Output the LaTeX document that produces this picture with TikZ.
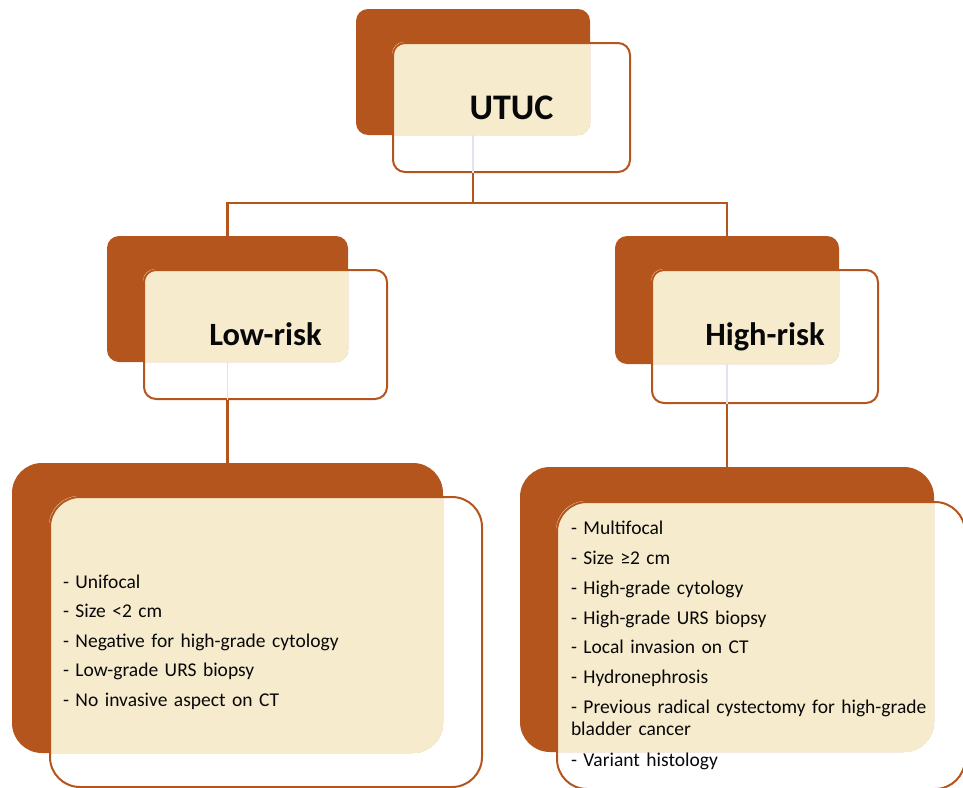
\documentclass[tikz,border=0pt]{standalone}
\usepackage{fontspec}
\setmainfont{Carlito}

\definecolor{rust}{RGB}{181,85,30}
\definecolor{cream}{RGB}{247,235,206}
\definecolor{faintline}{RGB}{224,226,242}
\definecolor{ink}{RGB}{8,8,8}
\pgfdeclarelayer{back}
\pgfsetlayers{back,main}

\begin{document}
\begin{tikzpicture}[x=1pt, y=-1pt,
    darkbox/.style={fill=rust, draw=none, inner sep=0pt},
    framebox/.style={draw=rust, line width=2pt, inner sep=0pt, text=ink},
    headtext/.style={font=\fontsize{#1}{#1}\selectfont\bfseries},
    listtext/.style={font=\fontsize{19.5}{22}\selectfont, align=left},
    link/.style={draw=rust, line width=2.2pt},
    faint/.style={draw=faintline, line width=1.2pt}
]
    \useasboundingbox (0,0) rectangle (963,787);

    % dark back plates
    \begin{pgfonlayer}{back}
        \node[darkbox, rounded corners=12pt, minimum width=234pt, minimum height=126pt] (utucBack) at (473,72) {};
        \node[darkbox, rounded corners=12pt, minimum width=241pt, minimum height=126pt] (lowBack) at (227.5,299) {};
        \node[darkbox, rounded corners=12pt, minimum width=224pt, minimum height=128pt] (highBack) at (727,300) {};
        \node[darkbox, rounded corners=30pt, minimum width=431pt, minimum height=290pt] (lowListBack) at (227.5,608) {};
        \node[darkbox, rounded corners=30pt, minimum width=414pt, minimum height=285pt] (highListBack) at (727,609.5) {};
    \end{pgfonlayer}

    % framed boxes with the texts
    \node[framebox, rounded corners=12pt, minimum width=237pt, minimum height=129pt, headtext=36] (utuc) at (511.5,107.5) {UTUC};
    \node[framebox, rounded corners=12pt, minimum width=243pt, minimum height=129pt, headtext=32.5] (low) at (265.5,334.5) {Low-risk};
    \node[framebox, rounded corners=12pt, minimum width=226pt, minimum height=133pt, headtext=32.5] (high) at (765,336.5) {High-risk};
    \node[framebox, rounded corners=30pt, minimum width=432pt, minimum height=290pt, listtext, text width=406pt] (lowList) at (266,642) {%
        - Unifocal\\[7.5pt]
        - Size <2 cm\\[7.5pt]
        - Negative for high-grade cytology\\[7.5pt]
        - Low-grade URS biopsy\\[7.5pt]
        - No invasive aspect on CT};
    \node[framebox, rounded corners=30pt, minimum width=408pt, minimum height=287pt, listtext, text width=380pt] (highList) at (761,645.5) {%
        - Multifocal\\[7.8pt]
        - Size ≥2 cm\\[7.8pt]
        - High-grade cytology\\[7.8pt]
        - High-grade URS biopsy\\[7.8pt]
        - Local invasion on CT\\[7.8pt]
        - Hydronephrosis\\[7.8pt]
        - Previous radical cystectomy for high-grade\\
        bladder cancer\\[9pt]
        - Variant histology};

    % cream where plate and frame overlap
    \begin{pgfonlayer}{back}
        \foreach \b/\f/\r in {utucBack/utuc/12, lowBack/low/12, highBack/high/12,
                              lowListBack/lowList/30, highListBack/highList/30} {
            \begin{scope}
                \clip[rounded corners=\r pt] (\b.south west) rectangle (\b.north east);
                \fill[cream, rounded corners=\r pt] (\f.south west) rectangle (\f.north east);
            \end{scope}
        }
    \end{pgfonlayer}

    % connectors
    \draw[faint] (utucBack.south) -- (utucBack.south |- utuc.south);
    \draw[faint] (lowBack.south) -- (lowBack.south |- low.south);
    \draw[faint] (highBack.south) -- (highBack.south |- high.south);
    \path (utucBack.south |- utuc.south) ++(0,30) coordinate (split);
    \draw[link] (utucBack.south |- utuc.south) -- (split);
    \draw[link] (split) -| (lowBack.north);
    \draw[link] (split) -| (highBack.north);
    \draw[link] (lowBack.south |- low.south) -- (lowListBack.north);
    \draw[link] (highBack.south |- high.south) -- (highListBack.north);
\end{tikzpicture}
\end{document}
